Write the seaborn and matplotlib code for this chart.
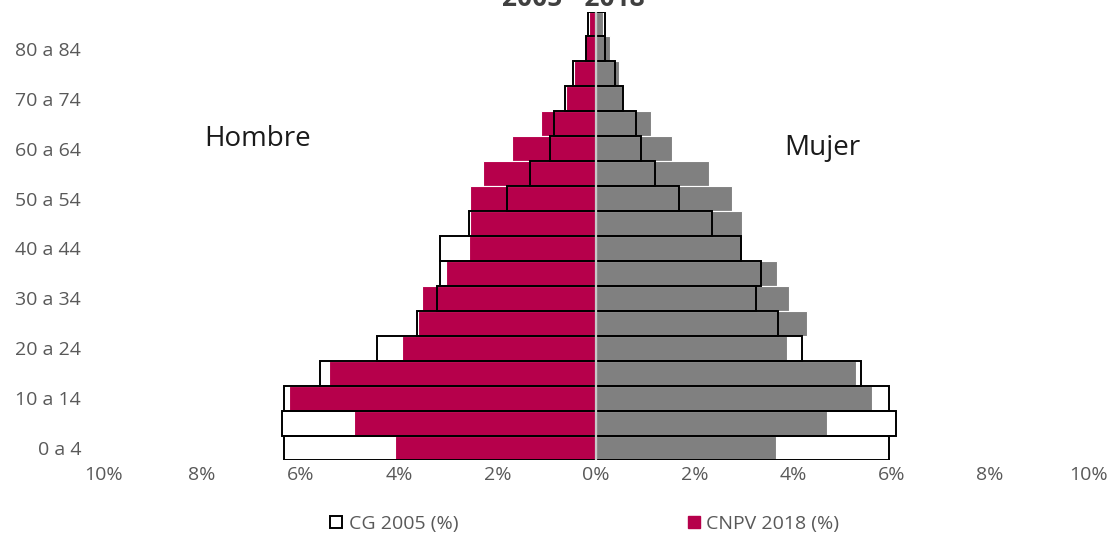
import matplotlib
matplotlib.use("Agg")
import matplotlib.pyplot as plt
from matplotlib.patches import Patch
from matplotlib.ticker import FuncFormatter
import pandas as pd
import seaborn as sns

# Age groups, youngest first
ages = ["0 a 4", "5 a 9", "10 a 14", "15 a 19", "20 a 24", "25 a 29", "30 a 34",
        "35 a 39", "40 a 44", "45 a 49", "50 a 54", "55 a 59", "60 a 64", "65 a 69",
        "70 a 74", "75 a 79", "80 a 84", "85 y más"]

# Share of total population (%) per age group
cg_hombre = [6.34, 6.37, 6.34, 5.60, 4.44, 3.64, 3.23, 3.16, 3.16, 2.57, 1.80, 1.33,
             0.94, 0.85, 0.62, 0.46, 0.20, 0.16]
cg_mujer = [5.94, 6.09, 5.95, 5.38, 4.19, 3.69, 3.24, 3.34, 2.95, 2.35, 1.68, 1.19,
            0.92, 0.81, 0.55, 0.38, 0.18, 0.18]
cnpv_hombre = [4.07, 4.91, 6.23, 5.42, 3.94, 3.62, 3.54, 3.05, 2.58, 2.56, 2.56, 2.30,
               1.71, 1.12, 0.60, 0.44, 0.23, 0.15]
cnpv_mujer = [3.65, 4.68, 5.61, 5.28, 3.87, 4.29, 3.92, 3.67, 2.96, 2.97, 2.77, 2.29,
              1.54, 1.11, 0.55, 0.46, 0.29, 0.15]

x_ticks = [-10, -8, -6, -4, -2, 0, 2, 4, 6, 8, 10]
label_ages = ["0 a 4", "10 a 14", "20 a 24", "30 a 34", "40 a 44", "50 a 54",
              "60 a 64", "70 a 74", "80 a 84"]

CRIMSON = "#B6004B"
GRAY = "#808080"
TEXT = "#595959"

sns.set_theme(style="white")
plt.rcParams["font.family"] = ["Open Sans", "DejaVu Sans"]

df = pd.DataFrame({
    "edad": ages,
    "cg_h": [-v for v in cg_hombre],
    "cg_m": cg_mujer,
    "cnpv_h": [-v for v in cnpv_hombre],
    "cnpv_m": cnpv_mujer,
})
order = ages[::-1]  # oldest group at the top

fig = plt.figure(figsize=(11.12, 5.38), dpi=100)
ax = fig.add_axes([0.0929, 0.1441, 0.9790 - 0.0929, 0.9786 - 0.1441])

# 2018 census: solid bars
sns.barplot(data=df, y="edad", x="cnpv_h", order=order, orient="h", color=CRIMSON,
            saturation=1, width=1.0, edgecolor="white", linewidth=0.8, ax=ax)
sns.barplot(data=df, y="edad", x="cnpv_m", order=order, orient="h", color=GRAY,
            saturation=1, width=1.0, edgecolor="white", linewidth=0.8, ax=ax)
# 2005 census: outlined bars on top
sns.barplot(data=df, y="edad", x="cg_h", order=order, orient="h", color="black",
            fill=False, width=1.0, linewidth=1.4, ax=ax)
sns.barplot(data=df, y="edad", x="cg_m", order=order, orient="h", color="black",
            fill=False, width=1.0, linewidth=1.4, ax=ax)

ax.axvline(0, color="#c8c8c8", lw=1.6, zorder=5)

ax.set_xlim(-10, 10)
ax.set_ylim(len(ages) - 0.5, -0.5)
ax.set_xticks(x_ticks)
ax.xaxis.set_major_formatter(FuncFormatter(lambda v, _: f"{abs(v):.0f}%"))
ax.set_yticks([order.index(a) for a in label_ages])
ax.set_yticklabels(label_ages)
ax.set_xlabel("")
ax.set_ylabel("")
ax.tick_params(axis="both", length=0, labelsize=14, colors=TEXT)
ax.tick_params(axis="y", pad=16)
ax.tick_params(axis="x", pad=4)
sns.despine(ax=ax, left=True, bottom=True)

ax.text(-6.86, 4.6, "Hombre", fontsize=20, color="#1a1a1a", ha="center", va="center")
ax.text(4.59, 4.97, "Mujer", fontsize=20, color="#1a1a1a", ha="center", va="center")

fig.text(0.5157, 0.988, "2005 - 2018", fontsize=19, fontweight="bold",
         color="#404040", ha="center", va="baseline")

handles = [Patch(facecolor="white", edgecolor="black", linewidth=1.4),
           Patch(facecolor=CRIMSON, edgecolor=CRIMSON)]
leg = fig.legend(handles, ["CG 2005 (%)", "CNPV 2018 (%)"], loc="center",
                 bbox_to_anchor=(0.526, 0.026), ncol=2, frameon=False, fontsize=14,
                 handlelength=0.6, handleheight=0.6, handletextpad=0.35,
                 columnspacing=11.8)
for t in leg.get_texts():
    t.set_color(TEXT)

fig.savefig("out.png", dpi=100)
